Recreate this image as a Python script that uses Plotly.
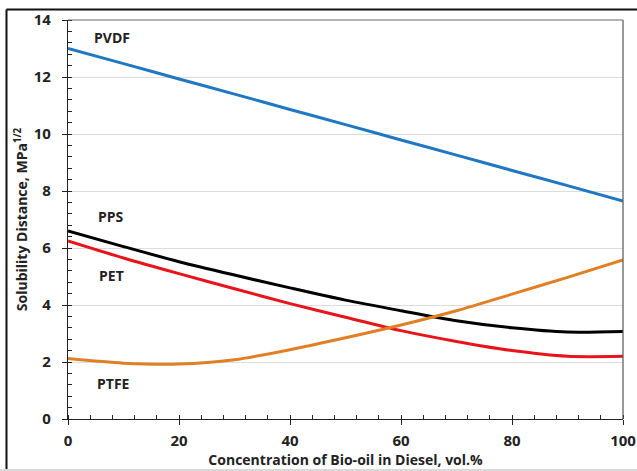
import plotly.graph_objects as go

x_vals = [0, 10, 20, 30, 40, 50, 60, 70, 80, 90, 100]
pvdf = [13.0, 12.47, 11.93, 11.4, 10.86, 10.33, 9.79, 9.26, 8.72, 8.19, 7.65]
pps = [6.6, 6.05, 5.52, 5.05, 4.6, 4.17, 3.8, 3.45, 3.2, 3.05, 3.07]
pet = [6.25, 5.65, 5.1, 4.57, 4.05, 3.57, 3.1, 2.72, 2.4, 2.2, 2.2]
ptfe = [2.12, 1.96, 1.93, 2.08, 2.43, 2.85, 3.3, 3.8, 4.38, 4.97, 5.58]

x_ticks = [0, 20, 40, 60, 80, 100]
y_ticks = [0, 2, 4, 6, 8, 10, 12, 14]

series = [("PVDF", pvdf, "#1f78c1"), ("PPS", pps, "#000000"),
          ("PET", pet, "#e8141b"), ("PTFE", ptfe, "#e07f24")]
labels = [("PVDF", 8, 13.4), ("PPS", 7.8, 7.1), ("PET", 7.8, 5.05), ("PTFE", 8.2, 1.25)]

FONT = "Open Sans"
fig = go.Figure()
for name, ys, col in series:
    fig.add_trace(go.Scatter(x=x_vals, y=ys, mode="lines", name=name,
                             line=dict(color=col, width=3, shape="spline", smoothing=0.8),
                             showlegend=False))

for txt, lx, ly in labels:
    fig.add_annotation(x=lx, y=ly, text="<b>%s</b>" % txt, showarrow=False,
                       font=dict(family=FONT, size=14, color="#222"))

# dummy trace on overlay axes for inside major ticks
fig.add_trace(go.Scatter(x=[0], y=[0], xaxis="x2", yaxis="y2", mode="markers",
                         marker=dict(opacity=0), showlegend=False, hoverinfo="skip"))

axis_font = dict(family=FONT, size=15, color="#222")
fig.update_layout(
    width=637, height=471,
    margin=dict(l=68, r=14, t=20, b=52, autoexpand=False),
    paper_bgcolor="white", plot_bgcolor="white",
    xaxis=dict(range=[0, 100], tickvals=x_ticks, ticktext=["<b>%d</b>" % v for v in x_ticks],
               showgrid=False,
               zeroline=False, showline=True, linecolor="#222", linewidth=1.2,
               ticks="outside", ticklen=5, tickcolor="#222", automargin=False,
               ticklabelstandoff=3,
               minor=dict(dtick=4, ticks="inside", ticklen=4, tickcolor="#222", showgrid=False),
               tickfont=axis_font,
               title=dict(text="<b>Concentration of Bio-oil in Diesel, vol.%</b>",
                          font=dict(family=FONT, size=14, color="#222"), standoff=0)),
    yaxis=dict(range=[0, 14], tickvals=y_ticks, ticktext=["<b>%d</b>" % v for v in y_ticks],
               showgrid=True,
               gridcolor="#dcdcdc", gridwidth=1, zeroline=False, showline=True,
               linecolor="#222", linewidth=1.2, ticks="outside", ticklen=5, tickcolor="#222",
               automargin=False, ticklabelstandoff=8,
               minor=dict(dtick=0.4, ticks="inside", ticklen=4, tickcolor="#222", showgrid=False),
               tickfont=axis_font,
               title=dict(text="<b>Solubility Distance, MPa<sup>1/2</sup></b>",
                          font=dict(family=FONT, size=14, color="#222"), standoff=2)),
    xaxis2=dict(range=[0, 100], overlaying="x", tickvals=x_ticks,
                ticks="inside", ticklen=4, tickcolor="#222", showticklabels=False,
                showgrid=False, zeroline=False, showline=False, automargin=False),
    yaxis2=dict(range=[0, 14], overlaying="y", tickvals=y_ticks,
                ticks="inside", ticklen=4, tickcolor="#222", showticklabels=False,
                showgrid=False, zeroline=False, showline=False, automargin=False),
)

# plot-area outline (top & right)
fig.add_shape(type="line", xref="paper", yref="paper", x0=0, x1=1, y0=1, y1=1,
              line=dict(color="#666", width=1.2))
fig.add_shape(type="line", xref="paper", yref="paper", x0=1, x1=1, y0=0, y1=1,
              line=dict(color="#555", width=1.2))

# outer frame (image border)
W, L = 555.0, 68.0
H = 399.0
def px(xp):
    return (xp - L) / W
def py(yp):
    return (419.0 - yp) / H
fig.add_shape(type="line", xref="paper", yref="paper", x0=px(6.5), x1=px(637), y0=py(9.5), y1=py(9.5),
              line=dict(color="#111", width=2))
fig.add_shape(type="line", xref="paper", yref="paper", x0=px(6.5), x1=px(6.5), y0=py(9.5), y1=py(469),
              line=dict(color="#111", width=2))
fig.add_shape(type="rect", xref="paper", yref="paper", x0=px(0), x1=px(637), y0=py(469), y1=py(471),
              line=dict(width=0), fillcolor="#d9d9d9")

fig.write_html("out.html")
